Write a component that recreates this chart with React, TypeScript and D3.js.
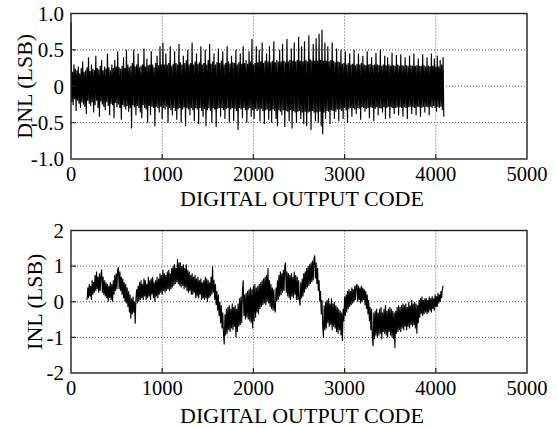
import React from "react";
import * as d3 from "d3";

// ---- Data ----
const xTicks = [0, 1000, 2000, 3000, 4000, 5000];
const dnlTicks = [-1, -0.5, 0, 0.5, 1];
const dnlTickLabels = ["-1.0", "-0.5", "0", "0.5", "1.0"];
const inlTicks = [-2, -1, 0, 1, 2];
const inlTickLabels = ["-2", "-1", "0", "1", "2"];

// DNL sampled every 8 codes, starting at code 0
const dnlStart = 0;
const dnlStep = 8;
const dnl = [
  0.88, -0.22, 0.2, -0.26, 0.3, -0.18, 0.24, -0.34, 0.22, -0.2, 0.27, -0.24, 0.18, -0.3, 0.25, -0.22,
  0.34, -0.25, 0.2, -0.28, 0.22, -0.38, 0.26, -0.2, 0.4, -0.24, 0.21, -0.27, 0.3, -0.22, 0.24, -0.36,
  0.22, -0.26, 0.42, -0.2, 0.25, -0.3, 0.23, -0.42, 0.28, -0.21, 0.36, -0.25, 0.22, -0.28, 0.27, -0.33,
  0.24, -0.22, 0.45, -0.27, 0.26, -0.4, 0.22, -0.24, 0.3, -0.26, 0.25, -0.44, 0.36, -0.23, 0.27, -0.29,
  0.48, -0.25, 0.26, -0.3, 0.24, -0.46, 0.28, -0.26, 0.4, -0.28, 0.25, -0.32, 0.5, -0.27, 0.3, -0.35,
  0.26, -0.3, 0.28, -0.58, 0.32, -0.26, 0.5, -0.29, 0.27, -0.4, 0.3, -0.27, 0.45, -0.3, 0.26, -0.36,
  0.28, -0.44, 0.3, -0.26, 0.52, -0.3, 0.27, -0.32, 0.38, -0.5, 0.29, -0.27, 0.3, -0.4, 0.48, -0.28,
  0.3, -0.3, 0.26, -0.55, 0.32, -0.28, 0.42, -0.3, 0.29, -0.36, 0.55, -0.28, 0.3, -0.45, 0.6, -0.3,
  0.3, -0.32, 0.45, -0.28, 0.3, -0.5, 0.32, -0.3, 0.55, -0.33, 0.28, -0.4, 0.31, -0.3, 0.48, -0.34,
  0.32, -0.46, 0.3, -0.31, 0.58, -0.3, 0.33, -0.5, 0.3, -0.32, 0.42, -0.29, 0.32, -0.55, 0.36, -0.3,
  0.5, -0.32, 0.3, -0.4, 0.32, -0.3, 0.6, -0.33, 0.3, -0.48, 0.34, -0.3, 0.45, -0.32, 0.31, -0.52,
  0.33, -0.3, 0.55, -0.34, 0.3, -0.42, 0.32, -0.31, 0.5, -0.55, 0.3, -0.33, 0.36, -0.3, 0.58, -0.34,
  0.31, -0.5, 0.34, -0.3, 0.45, -0.32, 0.3, -0.56, 0.33, -0.31, 0.52, -0.3, 0.32, -0.42, 0.35, -0.3,
  0.48, -0.33, 0.3, -0.45, 0.32, -0.31, 0.55, -0.3, 0.34, -0.5, 0.31, -0.32, 0.42, -0.3, 0.33, -0.48,
  0.32, -0.31, 0.5, -0.34, 0.3, -0.6, 0.33, -0.3, 0.45, -0.32, 0.31, -0.44, 0.55, -0.3, 0.32, -0.33,
  0.36, -0.5, 0.31, -0.32, 0.48, -0.3, 0.34, -0.42, 0.65, -0.33, 0.3, -0.45, 0.32, -0.31, 0.55, -0.34,
  0.33, -0.32, 0.5, -0.48, 0.34, -0.31, 0.6, -0.34, 0.32, -0.52, 0.35, -0.33, 0.45, -0.32, 0.34, -0.46,
  0.55, -0.34, 0.33, -0.5, 0.35, -0.32, 0.62, -0.34, 0.33, -0.45, 0.36, -0.55, 0.34, -0.33, 0.5, -0.35,
  0.34, -0.4, 0.58, -0.33, 0.35, -0.56, 0.33, -0.34, 0.65, -0.35, 0.34, -0.48, 0.36, -0.33, 0.52, -0.58,
  0.35, -0.34, 0.6, -0.36, 0.34, -0.5, 0.36, -0.35, 0.68, -0.34, 0.35, -0.45, 0.55, -0.36, 0.34, -0.52,
  0.62, -0.35, 0.36, -0.55, 0.34, -0.36, 0.7, -0.35, 0.37, -0.6, 0.35, -0.34, 0.58, -0.36, 0.35, -0.48,
  0.66, -0.36, 0.35, -0.5, 0.72, -0.35, 0.36, -0.55, 0.78, -0.66, 0.35, -0.36, 0.6, -0.45, 0.35, -0.34,
  0.55, -0.35, 0.34, -0.52, 0.36, -0.33, 0.6, -0.34, 0.35, -0.45, 0.33, -0.35, 0.52, -0.32, 0.34, -0.48,
  0.33, -0.32, 0.5, -0.34, 0.31, -0.45, 0.32, -0.3, 0.48, -0.33, 0.3, -0.5, 0.32, -0.31, 0.45, -0.3,
  0.3, -0.42, 0.31, -0.3, 0.5, -0.32, 0.29, -0.38, 0.31, -0.3, 0.45, -0.31, 0.3, -0.46, 0.32, -0.29,
  0.42, -0.3, 0.3, -0.35, 0.29, -0.31, 0.48, -0.3, 0.3, -0.44, 0.31, -0.29, 0.4, -0.3, 0.29, -0.48,
  0.3, -0.31, 0.46, -0.29, 0.3, -0.4, 0.29, -0.3, 0.5, -0.31, 0.28, -0.36, 0.3, -0.29, 0.42, -0.45,
  0.29, -0.3, 0.4, -0.28, 0.3, -0.44, 0.28, -0.29, 0.46, -0.3, 0.29, -0.38, 0.28, -0.3, 0.43, -0.29,
  0.3, -0.4, 0.28, -0.29, 0.44, -0.3, 0.29, -0.42, 0.28, -0.29, 0.4, -0.3, 0.29, -0.45, 0.28, -0.29,
  0.42, -0.28, 0.29, -0.38, 0.28, -0.29, 0.45, -0.3, 0.28, -0.4, 0.29, -0.28, 0.38, -0.29, 0.28, -0.42,
  0.28, -0.3, 0.44, -0.28, 0.29, -0.36, 0.27, -0.28, 0.4, -0.29, 0.28, -0.4, 0.27, -0.28, 0.45, -0.3,
  0.28, -0.27, 0.38, -0.3, 0.27, -0.35, 0.42, -0.28, 0.27, -0.3, 0.36, -0.28, 0.3, -0.33, 0.4, -0.42,
];

// INL sampled every 8 codes, starting at code 176
const inlStart = 176;
const inlStep = 8;
const inl = [
  0.05, 0.4, 0.1, 0.5, 0.15, 0.45, 0.05, 0.6, 0.2, 0.55, 0.25, 0.75, 0.3, 0.85, 0.35, 0.7,
  0.25, 0.8, 0.3, 0.75, 0.9, 0.25, 0.7, 0.2, 0.6, 0.15, 0.55, 0.1, 0.5, 0.0, 0.45, 0.1,
  0.55, 0.05, 0.5, 0.0, 0.6, 0.2, 0.75, 0.3, 0.8, 0.35, 0.9, 0.97, 0.35, 0.85, 0.3, 0.7,
  0.2, 0.65, 0.1, 0.55, 0.0, 0.5, -0.05, 0.4, -0.15, 0.3, -0.3, 0.2, -0.47, 0.1, -0.35, 0.15,
  -0.3, 0.0, -0.62, 0.1, 0.35, -0.05, 0.45, 0.0, 0.55, 0.05, 0.6, 0.1, 0.5, 0.05, 0.65, 0.15,
  0.6, 0.05, 0.5, 0.1, 0.7, 0.15, 0.6, 0.05, 0.65, 0.2, 0.7, 0.1, 0.55, 0.0, 0.6, 0.15,
  0.7, 0.1, 0.65, 0.2, 0.8, 0.25, 0.75, 0.2, 0.9, 0.3, 0.8, 0.25, 0.75, 0.3, 0.85, 0.35,
  0.9, 0.3, 0.8, 0.35, 0.95, 0.4, 1.0, 0.45, 1.05, 0.5, 0.95, 0.55, 1.2, 0.5, 1.1, 0.45,
  1.1, 0.4, 1.0, 0.45, 1.05, 0.35, 0.95, 0.4, 1.05, 0.3, 0.9, 0.25, 0.85, 0.3, 0.75, 0.2,
  0.8, 0.2, 0.7, 0.25, 0.75, 0.1, 0.65, 0.15, 0.7, 0.1, 0.6, 0.2, 0.65, 0.05, 0.55, 0.1,
  0.6, 0.05, 0.7, 0.1, 0.65, 0.0, 0.6, 0.1, 0.55, 0.15, 0.7, 0.2, 1.0, 0.25, 0.6, 0.05,
  0.5, -0.1, 0.3, -0.25, 0.2, -0.4, 0.0, -0.6, -0.1, -0.75, -0.3, -0.9, -1.2, -0.35, -0.95, -0.2,
  -0.9, -0.15, -0.8, -0.1, -0.85, -0.2, -0.75, -0.05, -0.8, -0.15, -0.7, -0.1, -1.0, -0.2, -0.85, -0.05,
  -0.7, 0.1, -0.65, 0.15, -0.6, 0.3, 0.6, -0.4, 0.2, -0.5, 0.25, -0.45, 0.3, -0.5, 0.35, -0.55,
  0.4, -0.6, 0.35, -0.75, 0.45, -0.55, 0.5, -0.45, 0.4, -0.3, 0.45, -0.35, 0.5, -0.2, 0.55, -0.15,
  0.6, -0.1, 0.65, -0.05, 0.7, -0.1, 0.75, 0.0, 0.95, -0.05, 0.6, -0.15, 0.5, -0.2, 0.4, -0.25,
  0.35, -0.2, -0.3, 0.4, 0.0, 0.6, 0.05, 0.75, 0.15, 0.85, 0.2, 0.8, 0.25, 0.9, 0.3, 1.0,
  1.1, 0.25, 0.85, 0.15, 0.8, 0.1, 0.75, 0.05, 0.8, 0.15, 0.7, 0.1, 0.85, 0.2, 0.75, 0.05,
  0.7, 0.05, 0.6, 0.0, -0.1, 0.55, 0.1, 0.65, 0.15, 0.8, 0.25, 0.85, 0.35, 0.95, 0.4, 1.0,
  0.45, 1.05, 0.5, 1.1, 0.55, 1.15, 0.6, 1.2, 1.3, 0.65, 1.1, 0.5, 0.95, 0.3, 0.6, 0.0,
  0.3, -0.35, 0.05, -0.7, -1.0, -0.1, -0.8, 0.0, -0.75, 0.05, -0.6, 0.1, -0.7, -0.05, -0.65, 0.1,
  -0.8, -0.05, -0.7, 0.0, -0.75, -0.1, -0.85, -0.15, -0.9, -0.2, -0.8, -0.25, -0.95, -0.3, -1.1, -0.2,
  -0.55, 0.15, -0.4, 0.2, -0.3, 0.3, -0.2, 0.35, -0.15, 0.3, -0.1, 0.4, -0.05, 0.35, 0.0, 0.45,
  0.05, 0.45, 0.5, 0.0, 0.45, 0.05, 0.4, -0.05, 0.45, 0.0, 0.4, 0.05, 0.35, -0.1, 0.3, -0.2,
  0.2, -0.35, 0.05, -0.55, -0.15, -0.8, -0.2, -1.0, -1.25, -0.3, -1.05, -0.25, -0.95, -0.2, -1.0, -0.3,
  -0.95, -0.2, -0.9, -0.15, -1.05, -0.3, -0.85, -0.2, -0.9, -0.1, -0.95, -0.25, -1.0, -0.2, -0.85, -0.15,
  -0.95, -0.2, -1.0, -0.25, -1.05, -0.3, -1.3, -0.25, -0.9, -0.15, -0.85, -0.1, -0.8, -0.15, -0.85, -0.1,
  -0.75, -0.05, -0.8, -0.1, -0.7, -0.05, -0.8, -0.15, -0.7, 0.0, -0.75, -0.1, -0.65, 0.05, -0.7, -0.05,
  -0.65, 0.0, -0.75, -0.05, -0.9, -0.1, -0.6, 0.05, -0.45, 0.1, -0.35, 0.15, -0.4, 0.05, -0.35, 0.1,
  -0.3, 0.1, -0.35, 0.05, -0.3, 0.15, -0.25, 0.1, -0.3, 0.15, -0.2, 0.1, -0.25, 0.2, -0.15, 0.15,
  -0.15, 0.25, -0.05, 0.2, 0.0, 0.3, 0.1, 0.35, 0.45,
];

const W = 557;
const H = 428;
const FONT = "Liberation Serif, Times New Roman, serif";

type PanelProps = {
  top: number;
  bottom: number;
  yDomain: [number, number];
  yTicks: number[];
  yTickLabels: string[];
  yLabel: string;
  yLabelX: number;
  values: number[];
  start: number;
  step: number;
  lineWidth: number;
  xLabelY: number;
  titleY: number;
};

const left = 71;
const right = 527;

function Panel(p: PanelProps) {
  const x = d3.scaleLinear().domain([0, 5000]).range([left, right]);
  const y = d3.scaleLinear().domain(p.yDomain).range([p.bottom, p.top]);
  const line = d3
    .line<number>()
    .x((_, i) => x(p.start + i * p.step))
    .y((d) => y(d));
  const innerX = xTicks.filter((t) => t > 0 && t < 5000);
  const innerY = p.yTicks.filter((t) => t > p.yDomain[0] && t < p.yDomain[1]);
  return (
    <g>
      {innerX.map((t) => (
        <line key={"gx" + t} x1={x(t)} x2={x(t)} y1={p.top} y2={p.bottom}
          stroke="#555" strokeWidth={1} strokeDasharray="1,2" />
      ))}
      {innerY.map((t) => (
        <line key={"gy" + t} x1={left} x2={right} y1={y(t)} y2={y(t)}
          stroke="#555" strokeWidth={1} strokeDasharray="1,2" />
      ))}
      <path d={line(p.values) || ""} fill="none" stroke="#000" strokeWidth={p.lineWidth}
        strokeLinejoin="miter" strokeMiterlimit={2} />
      {innerX.map((t) => (
        <line key={"tx" + t} x1={x(t)} x2={x(t)} y1={p.bottom} y2={p.bottom - 5}
          stroke="#222" strokeWidth={1.2} />
      ))}
      {innerY.map((t) => (
        <line key={"ty" + t} x1={left} x2={left + 5} y1={y(t)} y2={y(t)}
          stroke="#222" strokeWidth={1.2} />
      ))}
      <rect x={left} y={p.top} width={right - left} height={p.bottom - p.top}
        fill="none" stroke="#222" strokeWidth={1.4} />
      {p.yTicks.map((t, i) => (
        <text key={"ly" + t} x={64} y={y(t)} dy="0.35em" textAnchor="end"
          fontFamily={FONT} fontSize={21} fill="#000">{p.yTickLabels[i]}</text>
      ))}
      {xTicks.map((t) => (
        <text key={"lx" + t} x={x(t)} y={p.xLabelY} textAnchor="middle"
          fontFamily={FONT} fontSize={20.5} fill="#000">{t}</text>
      ))}
      <text x={302} y={p.titleY} textAnchor="middle" fontFamily={FONT} fontSize={22} fill="#000">
        DIGITAL OUTPUT CODE
      </text>
      <text transform={`translate(${p.yLabelX},${(p.top + p.bottom) / 2}) rotate(-90)`}
        dy="0.35em" textAnchor="middle" fontFamily={FONT} fontSize={22} fill="#000">
        {p.yLabel}
      </text>
    </g>
  );
}

export default function App() {
  return (
    <svg width={W} height={H} style={{ position: "absolute", left: 0, top: 0, background: "#fff" }}>
      <rect x={0} y={0} width={W} height={H} fill="#fff" />
      <Panel top={13.5} bottom={159} yDomain={[-1, 1]} yTicks={dnlTicks} yTickLabels={dnlTickLabels}
        yLabel="DNL (LSB)" yLabelX={24} values={dnl} start={dnlStart} step={dnlStep} lineWidth={1.15}
        xLabelY={181} titleY={205.5} />
      <Panel top={230.5} bottom={373} yDomain={[-2, 2]} yTicks={inlTicks} yTickLabels={inlTickLabels}
        yLabel="INL (LSB)" yLabelX={34} values={inl} start={inlStart} step={inlStep} lineWidth={1.1}
        xLabelY={394.5} titleY={423} />
    </svg>
  );
}
